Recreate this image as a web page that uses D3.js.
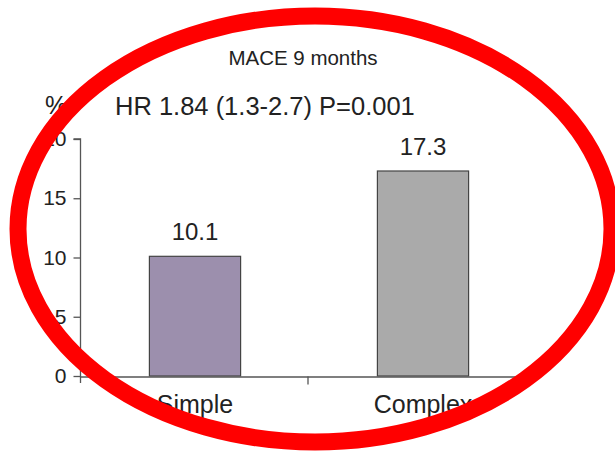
<!DOCTYPE html>
<html>
<head>
<meta charset="utf-8">
<script src="https://cdn.jsdelivr.net/npm/d3@7"></script>
<style>
  html, body { margin: 0; padding: 0; background: #fff; }
  svg { display: block; font-family: "Liberation Sans", Arial, sans-serif; }
</style>
</head>
<body>
<svg id="chart" width="615" height="454"></svg>
<script>
const categories = ["Simple", "Complex"];
const values = [10.1, 17.3];
const barColors = ["#9c8fad", "#aaaaaa"];
const yTicks = [0, 5, 10, 15, 20];
const title = "MACE 9 months";
const subtitle = "HR 1.84 (1.3-2.7) P=0.001";
const yUnit = "%";

const svg = d3.select("#chart");
const W = 615, H = 454;
svg.append("rect").attr("width", W).attr("height", H).attr("fill", "#fff");

const x = d3.scaleBand().domain(categories).range([80, 536]).padding(0);
const y = d3.scaleLinear().domain([0, 20]).range([376, 139]);
const barW = x.bandwidth() * 0.4;
const axisColor = "#555";
const textColor = "#222";

// bars
svg.selectAll("rect.bar").data(values).enter().append("rect")
  .attr("class", "bar")
  .attr("x", (d, i) => x(categories[i]) + x.bandwidth() / 2 - barW / 2 + 1)
  .attr("y", d => y(d))
  .attr("width", barW)
  .attr("height", d => y(0) - y(d))
  .attr("fill", (d, i) => barColors[i])
  .attr("stroke", "#444")
  .attr("stroke-width", 1.2);

// value labels
svg.selectAll("text.val").data(values).enter().append("text")
  .attr("class", "val")
  .attr("x", (d, i) => x(categories[i]) + x.bandwidth() / 2 + 1)
  .attr("y", d => y(d) - 16)
  .attr("text-anchor", "middle")
  .attr("font-size", 24)
  .attr("fill", textColor)
  .text(d => d.toFixed(1));

// y axis
const yAxis = d3.axisLeft(y).tickValues(yTicks).tickSize(7).tickPadding(7).tickFormat(d3.format("d"));
const gy = svg.append("g").attr("transform", "translate(80.5,0)").call(yAxis);
gy.select(".domain").attr("stroke", axisColor).attr("stroke-width", 1.3)
  .attr("d", `M-7,${y(20)}H0V${y(0) + 7}`);
gy.selectAll(".tick line").attr("stroke", axisColor).attr("stroke-width", 1.3);
gy.selectAll(".tick text").attr("font-size", 21).attr("fill", textColor)
  .attr("font-family", "Liberation Sans, Arial, sans-serif");

// x axis
const xAxis = d3.axisBottom(x).tickSize(0).tickPadding(0).tickFormat("");
const gx = svg.append("g").attr("transform", `translate(0,${y(0) + 0.5})`).call(xAxis);
gx.select(".domain").attr("stroke", axisColor).attr("stroke-width", 1.3);
gx.selectAll(".tick").remove();
// middle separator tick
gx.append("line")
  .attr("x1", x(categories[1])).attr("x2", x(categories[1]))
  .attr("y1", 0).attr("y2", 8)
  .attr("stroke", axisColor).attr("stroke-width", 1.3);

// category labels
svg.selectAll("text.cat").data(categories).enter().append("text")
  .attr("class", "cat")
  .attr("x", d => x(d) + x.bandwidth() / 2 + 1)
  .attr("y", 413)
  .attr("text-anchor", "middle")
  .attr("font-size", 25)
  .attr("fill", textColor)
  .text(d => d);

// titles
svg.append("text").attr("x", 303).attr("y", 65).attr("text-anchor", "middle")
  .attr("font-size", 20.5).attr("fill", textColor).text(title);
svg.append("text").attr("x", 115).attr("y", 115)
  .attr("font-size", 25.5).attr("fill", textColor).text(subtitle);
svg.append("text").attr("x", 45).attr("y", 114)
  .attr("font-size", 25).attr("fill", textColor).text(yUnit);

// red ellipse overlay
svg.append("ellipse")
  .attr("cx", 315).attr("cy", 229).attr("rx", 297).attr("ry", 213)
  .attr("fill", "none").attr("stroke", "#ff0000").attr("stroke-width", 17);
</script>
</body>
</html>
